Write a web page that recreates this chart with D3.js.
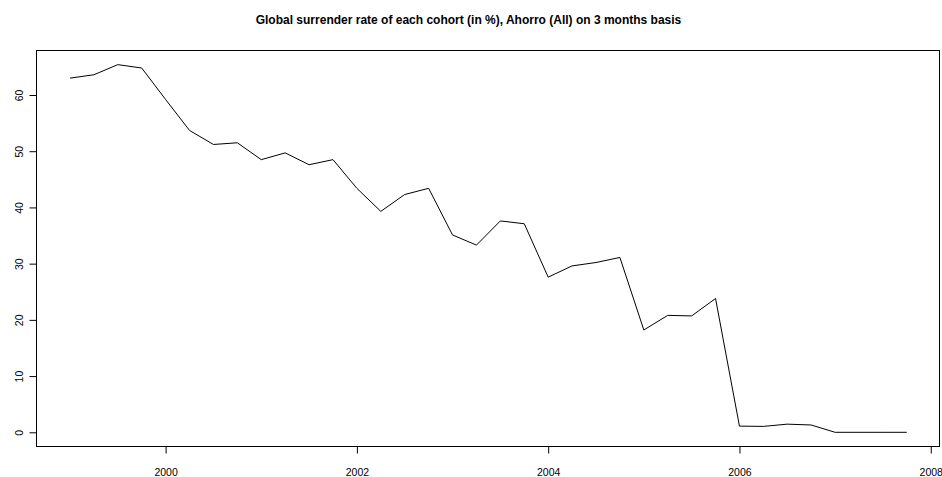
<!DOCTYPE html>
<html><head><meta charset="utf-8">
<script src="https://cdn.jsdelivr.net/npm/d3@7"></script>
<style>html,body{margin:0;padding:0;background:#fff;}svg{display:block;}</style>
</head><body>
<script>
const titleText = "Global surrender rate of each cohort (in %), Ahorro (All) on 3 months basis";
const quarters = [1999.00,1999.25,1999.50,1999.75,2000.00,2000.25,2000.50,2000.75,2001.00,2001.25,2001.50,2001.75,2002.00,2002.25,2002.50,2002.75,2003.00,2003.25,2003.50,2003.75,2004.00,2004.25,2004.50,2004.75,2005.00,2005.25,2005.50,2005.75,2006.00,2006.25,2006.50,2006.75,2007.00,2007.25,2007.50,2007.75];
const rates = [63.0,63.6,65.4,64.8,59.2,53.7,51.2,51.5,48.5,49.7,47.6,48.5,43.4,39.3,42.3,43.4,35.1,33.3,37.6,37.1,27.6,29.6,30.2,31.1,18.2,20.8,20.7,23.8,1.1,1.05,1.45,1.3,0,0,0,0];
const xTicks = [2000,2002,2004,2006,2008];
const yTicks = [0,10,20,30,40,50,60];

const W = 942, H = 477;
const boxL = 36.5, boxR = 939.5, boxT = 50.5, boxB = 446.5;
const svg = d3.select("body").append("svg").attr("width", W).attr("height", H);

const x = d3.scaleLinear().domain([1998.65, 2008.1]).range([boxL, 940.3]);
const y = d3.scaleLinear().domain([0, 60]).range([432.3, 95]);

const font = "'Liberation Sans', Arial, Helvetica, sans-serif";

// title
svg.append("text").attr("x", 468.5).attr("y", 24).attr("text-anchor", "middle")
  .attr("font-family", font).attr("font-weight", "bold").attr("font-size", 12)
  .attr("fill", "#000").text(titleText);

// box
svg.append("rect").attr("x", boxL).attr("y", boxT).attr("width", boxR - boxL).attr("height", boxB - boxT)
  .attr("fill", "none").attr("stroke", "#000").attr("stroke-width", 1);

// y axis
const ya = svg.append("g").attr("transform", `translate(${boxL},0)`)
  .call(d3.axisLeft(y).tickValues(yTicks).tickSize(7).tickFormat(d3.format("d")));
ya.select(".domain").remove();
ya.append("line").attr("x1", 0).attr("x2", 0).attr("y1", y(yTicks[0])).attr("y2", y(yTicks[yTicks.length-1])).attr("stroke", "#000");
ya.selectAll(".tick line").attr("stroke", "#000");
ya.selectAll(".tick text").attr("font-family", font).attr("font-size", 10.5).attr("fill", "#000")
  .attr("x", null).attr("dy", null).attr("text-anchor", "middle")
  .attr("transform", "translate(-18,0) rotate(-90)").attr("dominant-baseline", "central");

// x axis
const xa = svg.append("g").attr("transform", `translate(0,${boxB})`)
  .call(d3.axisBottom(x).tickValues(xTicks).tickSize(7).tickFormat(d3.format("d")));
xa.select(".domain").remove();
xa.append("line").attr("x1", x(xTicks[0])).attr("x2", x(xTicks[xTicks.length-1])).attr("y1", 0).attr("y2", 0).attr("stroke", "#000");
xa.selectAll(".tick line").attr("stroke", "#000");
xa.selectAll(".tick text").attr("font-family", font).attr("font-size", 10.5).attr("fill", "#000")
  .attr("y", 25).attr("dy", null).attr("dominant-baseline", "central");

// line
const line = d3.line().x((d, i) => x(quarters[i])).y(d => y(d));
svg.append("path").datum(rates).attr("d", line).attr("fill", "none")
  .attr("stroke", "#000").attr("stroke-width", 1);
</script>
</body></html>
